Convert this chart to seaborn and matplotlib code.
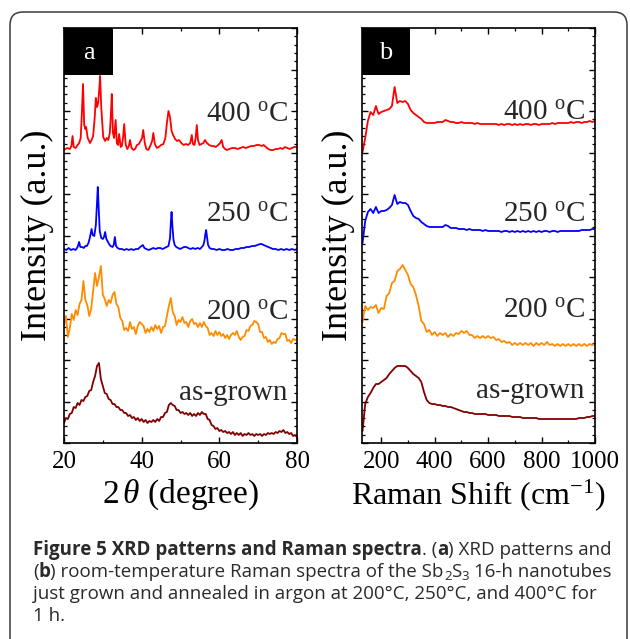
import numpy as np
import matplotlib
matplotlib.use("Agg")
import matplotlib.pyplot as plt
from matplotlib.patches import FancyBboxPatch, Rectangle
from matplotlib.ticker import MultipleLocator
import seaborn as sns

# ---- data (intensity in arbitrary units) ----
two_theta = np.arange(20.0, 80.01, 0.5)
raman_shift = np.arange(130, 1001, 10)

xrd_400 = [(20.0, 293), (20.8, 295), (21.5, 294), (21.9, 297), (22.2, 307), (22.5, 296), (23.0, 295), (23.5, 298), (23.9, 300), (24.3, 305),
           (24.6, 330), (24.9, 359), (25.2, 318), (25.5, 314), (25.7, 316), (26.1, 305), (26.7, 300), (27.1, 303), (27.5, 307), (27.9, 325),
           (28.2, 345), (28.5, 336), (28.8, 340), (29.1, 355), (29.3, 367), (29.6, 335), (30.1, 306), (30.6, 302), (31.0, 305), (31.4, 303),
           (31.8, 310), (32.1, 330), (32.3, 349), (32.6, 310), (32.9, 305), (33.3, 323), (33.6, 300), (33.9, 298), (34.2, 309), (34.6, 296),
           (34.9, 297), (35.2, 305), (35.5, 319), (35.9, 298), (36.3, 294), (36.7, 297), (37.0, 303), (37.4, 295), (37.9, 293), (38.3, 294),
           (38.8, 298), (39.3, 299), (39.7, 302), (40.1, 305), (40.4, 313), (40.8, 300), (41.2, 294), (41.7, 293), (42.2, 297), (42.7, 302),
           (43.0, 310), (43.4, 299), (43.9, 295), (44.4, 296), (45.0, 298), (45.6, 299), (46.1, 305), (46.5, 320), (46.9, 332), (47.3, 326),
           (47.7, 312), (48.1, 308), (48.6, 304), (49.1, 302), (49.6, 303), (50.2, 300), (50.8, 298), (51.4, 299), (52.0, 298), (52.5, 300),
           (52.9, 308), (53.2, 299), (53.6, 298), (53.9, 305), (54.2, 318), (54.5, 303), (54.9, 298), (55.4, 299), (55.9, 300), (56.3, 303),
           (56.8, 300), (57.4, 298), (58.0, 297), (58.5, 297), (59.1, 296), (59.7, 298), (60.2, 300), (60.6, 303), (61.0, 296), (61.5, 294),
           (61.9, 293), (62.6, 294), (63.3, 295), (64.0, 295), (64.7, 294), (65.4, 295), (66.1, 296), (66.8, 295), (67.5, 296), (68.2, 297),
           (68.9, 297), (69.6, 298), (70.3, 298), (70.9, 297), (71.4, 298), (72.0, 296), (72.6, 294), (73.2, 293), (73.9, 293), (74.5, 294),
           (75.1, 294), (75.7, 295), (76.3, 294), (76.9, 296), (77.5, 295), (78.1, 294), (78.7, 295), (79.3, 296), (80.0, 296)]

xrd_250 = [(20.0, 194), (20.6, 193), (21.2, 195), (21.8, 193), (22.4, 194), (23.0, 193), (23.5, 196), (23.9, 201), (24.2, 196), (24.7, 196),
           (25.1, 195), (25.5, 197), (25.9, 197), (26.3, 200), (26.7, 206), (27.1, 214), (27.4, 208), (27.8, 207), (28.2, 218), (28.5, 240),
           (28.7, 256), (28.9, 238), (29.2, 212), (29.6, 205), (30.0, 204), (30.3, 206), (30.6, 211), (30.9, 204), (31.2, 202), (31.6, 199),
           (32.0, 197), (32.5, 196), (32.8, 198), (33.1, 206), (33.4, 197), (33.8, 195), (34.3, 194), (34.9, 194), (35.5, 193), (36.1, 194),
           (36.7, 193), (37.3, 194), (37.9, 193), (38.5, 194), (39.1, 194), (39.6, 196), (40.0, 197), (40.3, 198), (40.7, 195), (41.2, 194),
           (41.8, 193), (42.4, 194), (43.0, 195), (43.6, 194), (44.2, 195), (44.8, 195), (45.4, 194), (45.9, 195), (46.4, 196), (46.9, 197),
           (47.3, 205), (47.5, 220), (47.7, 231), (47.9, 218), (48.2, 203), (48.5, 198), (48.9, 196), (49.4, 195), (49.9, 194), (50.4, 195),
           (50.9, 196), (51.5, 196), (52.0, 195), (52.6, 194), (53.2, 195), (53.8, 194), (54.4, 195), (55.0, 194), (55.5, 196), (55.9, 198),
           (56.2, 203), (56.4, 209), (56.6, 213), (56.8, 207), (57.1, 198), (57.5, 195), (58.0, 194), (58.6, 194), (59.3, 193), (60.0, 194),
           (60.7, 193), (61.4, 193), (62.1, 194), (62.8, 193), (63.5, 193), (64.2, 194), (64.9, 194), (65.6, 195), (66.3, 195), (67.0, 196),
           (67.7, 196), (68.4, 197), (69.1, 197), (69.8, 198), (70.5, 199), (70.9, 199), (71.4, 198), (72.0, 197), (72.6, 196), (73.2, 195),
           (73.8, 194), (74.5, 194), (75.2, 193), (75.9, 194), (76.6, 193), (77.3, 194), (78.0, 193), (78.7, 194), (79.4, 193), (80.0, 194)]

# on the 0.5 degree grid of two_theta
xrd_200 = [118, 127, 106, 115, 129, 123, 133, 128, 139, 143,
           162, 143, 138, 127, 134, 152, 170, 157, 166, 177,
           148, 144, 137, 143, 140, 148, 151, 139, 136, 125,
           122, 113, 115, 112, 121, 114, 116, 109, 117, 121,
           119, 117, 110, 114, 111, 116, 112, 118, 114, 117,
           110, 116, 117, 127, 137, 145, 131, 127, 118, 123,
           121, 126, 120, 121, 116, 122, 124, 119, 120, 116,
           120, 116, 121, 117, 115, 108, 110, 107, 112, 108,
           111, 107, 109, 105, 108, 104, 108, 110, 108, 112,
           106, 103, 106, 107, 113, 112, 117, 118, 122, 121,
           119, 111, 111, 105, 106, 101, 103, 99, 101, 100,
           104, 105, 110, 109, 109, 102, 103, 100, 104, 103,
           104]

xrd_grown = [20, 25, 24, 29, 30, 36, 35, 40, 38, 43,
             42, 46, 47, 52, 53, 61, 67, 77, 80, 64,
             57, 50, 49, 44, 43, 39, 39, 36, 36, 33,
             33, 30, 30, 27, 28, 25, 26, 23, 25, 22,
             24, 21, 23, 20, 22, 21, 23, 21, 24, 22,
             26, 26, 30, 31, 38, 40, 38, 37, 33, 33,
             30, 31, 29, 30, 28, 30, 27, 29, 27, 30,
             28, 31, 29, 29, 24, 23, 18, 17, 14, 15,
             12, 13, 11, 12, 10, 11, 9, 11, 8, 10,
             8, 10, 7, 9, 8, 10, 8, 9, 7, 9,
             8, 9, 7, 9, 8, 10, 9, 10, 9, 11,
             10, 12, 11, 13, 10, 11, 9, 10, 7, 8,
             6]

# on the 10 cm-1 grid of raman_shift
raman_400 = [291, 305, 322, 331, 328, 337, 329, 331, 332, 333,
             334, 337, 356, 340, 342, 341, 342, 339, 333, 330,
             328, 326, 324, 321, 320, 320, 320, 320, 321, 321,
             321, 323, 322, 321, 321, 320, 320, 321, 320, 320,
             320, 320, 319, 320, 319, 319, 319, 319, 319, 319,
             319, 318, 319, 318, 319, 319, 318, 319, 318, 319,
             318, 319, 319, 318, 319, 319, 318, 319, 319, 319,
             319, 320, 319, 320, 320, 320, 320, 320, 321, 320,
             321, 321, 320, 321, 321, 322, 321, 322]

raman_250 = [200, 222, 231, 234, 230, 236, 230, 232, 232, 233,
             235, 238, 248, 239, 241, 240, 240, 238, 232, 227,
             225, 224, 221, 219, 217, 216, 216, 216, 216, 216,
             216, 218, 217, 215, 215, 215, 214, 214, 214, 213,
             214, 213, 213, 213, 213, 212, 213, 212, 212, 212,
             212, 212, 211, 212, 212, 211, 212, 211, 212, 211,
             212, 211, 212, 211, 212, 211, 212, 211, 212, 212,
             211, 212, 212, 211, 212, 212, 212, 212, 212, 212,
             212, 212, 213, 213, 213, 213, 214, 214]

raman_200 = [121, 137, 133, 136, 135, 138, 130, 135, 134, 147,
             150, 160, 162, 172, 174, 178, 173, 168, 159, 156,
             148, 137, 122, 119, 111, 113, 108, 111, 107, 110,
             108, 110, 106, 109, 107, 110, 109, 112, 110, 112,
             108, 108, 105, 107, 105, 107, 105, 107, 105, 106,
             103, 104, 101, 102, 100, 101, 98, 100, 98, 100,
             98, 100, 98, 100, 97, 100, 98, 100, 98, 101,
             98, 99, 97, 99, 97, 99, 97, 99, 97, 99,
             97, 99, 97, 99, 97, 99, 98, 99]

raman_grown = [12, 39, 46, 50, 55, 59, 59, 61, 63, 65,
               69, 72, 75, 77, 77, 77, 77, 75, 72, 69,
               67, 65, 61, 51, 43, 40, 39, 39, 38, 38,
               37, 37, 36, 36, 35, 34, 33, 32, 31, 31,
               30, 30, 29, 29, 29, 29, 29, 28, 28, 28,
               28, 27, 27, 27, 27, 27, 26, 26, 26, 26,
               25, 25, 25, 25, 25, 25, 24, 24, 24, 24,
               24, 24, 24, 24, 24, 24, 24, 24, 24, 24,
               24, 25, 25, 25, 26, 26, 27, 27]

series_labels = ["400 $^{\\mathrm{o}}$C", "250 $^{\\mathrm{o}}$C", "200 $^{\\mathrm{o}}$C", "as-grown"]
series_colors = ["#ff0000", "#0000ff", "#ff8c00", "#800000"]

# ---- style ----
sns.set_theme(style="ticks")
plt.rcParams["font.family"] = ["Liberation Serif", "DejaVu Serif"]
plt.rcParams["mathtext.fontset"] = "custom"
plt.rcParams["mathtext.rm"] = "Liberation Serif"
plt.rcParams["mathtext.it"] = "Liberation Serif:italic"
plt.rcParams["mathtext.bf"] = "Liberation Serif:bold"

W, H = 630, 639
fig = plt.figure(figsize=(W / 100, H / 100), dpi=100)

# background axes in pixel coordinates for the frame and the caption
bg = fig.add_axes([0, 0, 1, 1])
bg.set_xlim(0, W)
bg.set_ylim(H, 0)
bg.axis("off")
bg.add_patch(FancyBboxPatch((10, 12), 617, 700, boxstyle="round,pad=0,rounding_size=13",
                            facecolor="none", edgecolor="#3a3a3a", lw=1.1))


def make_axes(left):
    ax = fig.add_axes([left / W, 1 - 443 / H, 233 / W, 415 / H])
    ax.set_ylim(0, 415)
    ax.yaxis.set_major_locator(MultipleLocator(41.5))
    ax.yaxis.set_minor_locator(MultipleLocator(8.3))
    ax.tick_params(which="both", direction="in", top=True, right=True, colors="black",
                   labelleft=False, labelsize=18, pad=6)
    ax.tick_params(which="major", length=4.5, width=1.0)
    ax.tick_params(which="minor", length=2.5, width=0.9)
    for sp in ax.spines.values():
        sp.set_linewidth(1.2)
        sp.set_color("black")
    return ax


def panel_letter(ax, letter, width):
    ax.add_patch(Rectangle((0, 0.887), width, 0.113, transform=ax.transAxes,
                           facecolor="black", edgecolor="none", zorder=5, clip_on=False))
    ax.text(width / 2, 0.94, letter, transform=ax.transAxes, ha="center", va="center",
            color="white", fontsize=19, zorder=6)


def intensity_label(ax, xpos):
    ax.text(xpos, 0.5, "Intensity (a.u.)", transform=ax.transAxes, rotation=90,
            ha="center", va="center", fontsize=26, color="black")


# ---- panel a: XRD ----
ax_a = make_axes(64)
x400, y400 = zip(*xrd_400)
x250, y250 = zip(*xrd_250)
sns.lineplot(x=list(x400), y=list(y400), ax=ax_a, color=series_colors[0], lw=1.3)
sns.lineplot(x=list(x250), y=list(y250), ax=ax_a, color=series_colors[1], lw=1.3)
sns.lineplot(x=two_theta, y=xrd_200, ax=ax_a, color=series_colors[2], lw=1.3)
sns.lineplot(x=two_theta, y=xrd_grown, ax=ax_a, color=series_colors[3], lw=1.3)
ax_a.set_xlim(20, 80)
ax_a.set_ylim(0, 415)
ax_a.xaxis.set_major_locator(MultipleLocator(20))
ax_a.xaxis.set_minor_locator(MultipleLocator(10))
ax_a.set_xlabel("2$\\,\\mathit{\\theta}$ (degree)", fontsize=24, labelpad=3, color="black")
intensity_label(ax_a, -0.112)
panel_letter(ax_a, "a", 0.21)
for lab, yb in zip(series_labels, [0.7735, 0.5325, 0.2964, 0.1036]):
    ax_a.text(0.961, yb, lab, transform=ax_a.transAxes, ha="right", va="baseline", fontsize=21)

# ---- panel b: Raman ----
ax_b = make_axes(362)
for vals, col in zip([raman_400, raman_250, raman_200, raman_grown], series_colors):
    sns.lineplot(x=raman_shift, y=vals, ax=ax_b, color=col, lw=1.3)
ax_b.set_xlim(128, 1000)
ax_b.set_ylim(0, 415)
ax_b.xaxis.set_major_locator(MultipleLocator(200))
ax_b.xaxis.set_minor_locator(MultipleLocator(100))
ax_b.set_xlabel("Raman Shift (cm$^{-1}$)", fontsize=23, labelpad=3, color="black")
intensity_label(ax_b, -0.10)
panel_letter(ax_b, "b", 0.206)
for lab, yb in zip(series_labels, [0.778, 0.5325, 0.301, 0.108]):
    ax_b.text(0.957, yb, lab, transform=ax_b.transAxes, ha="right", va="baseline", fontsize=21)

# ---- caption ----
cap_font = "Open Sans"
cap_color = "#2a2a2a"
renderer = fig.canvas.get_renderer()


def text_width(s, size, weight):
    t = bg.text(0, 0, s, fontsize=size, fontweight=weight, family=cap_font)
    w = t.get_window_extent(renderer).width
    t.remove()
    return w


def draw_runs(x, y, runs, size):
    space = text_width("a a", size, "normal") - text_width("aa", size, "normal")
    for s, weight, scale, dy in runs:
        if s.startswith(" "):
            x += space
            s = s.lstrip(" ")
        t = bg.text(x, y + dy, s, fontsize=size * scale, fontweight=weight, family=cap_font,
                    color=cap_color, ha="left", va="baseline")
        x += t.get_window_extent(renderer).width
    return x


line1 = [("Figure 5 XRD patterns and Raman spectra", "bold", 1, 0), (". (", "normal", 1, 0),
         ("a", "bold", 1, 0), (") XRD patterns and", "normal", 1, 0)]
line2 = [("(", "normal", 1, 0), ("b", "bold", 1, 0),
         (") room-temperature Raman spectra of the Sb", "normal", 1, 0), ("2", "normal", 0.7, 3.5),
         ("S", "normal", 1, 0), ("3", "normal", 0.7, 3.5), (" 16-h nanotubes", "normal", 1, 0)]
line3 = [("just grown and annealed in argon at 200°C, 250°C, and 400°C for", "normal", 1, 0)]
line4 = [("1 h.", "normal", 1, 0)]

cap_size = 12
end = draw_runs(33, -50, line1, cap_size)
for t in list(bg.texts):
    t.remove()
cap_size = cap_size * (612 - 33) / (end - 33)
for runs, yb in zip([line1, line2, line3, line4], [555, 577, 599, 621]):
    draw_runs(33, yb, runs, cap_size)

fig.savefig("out.png", dpi=100)
